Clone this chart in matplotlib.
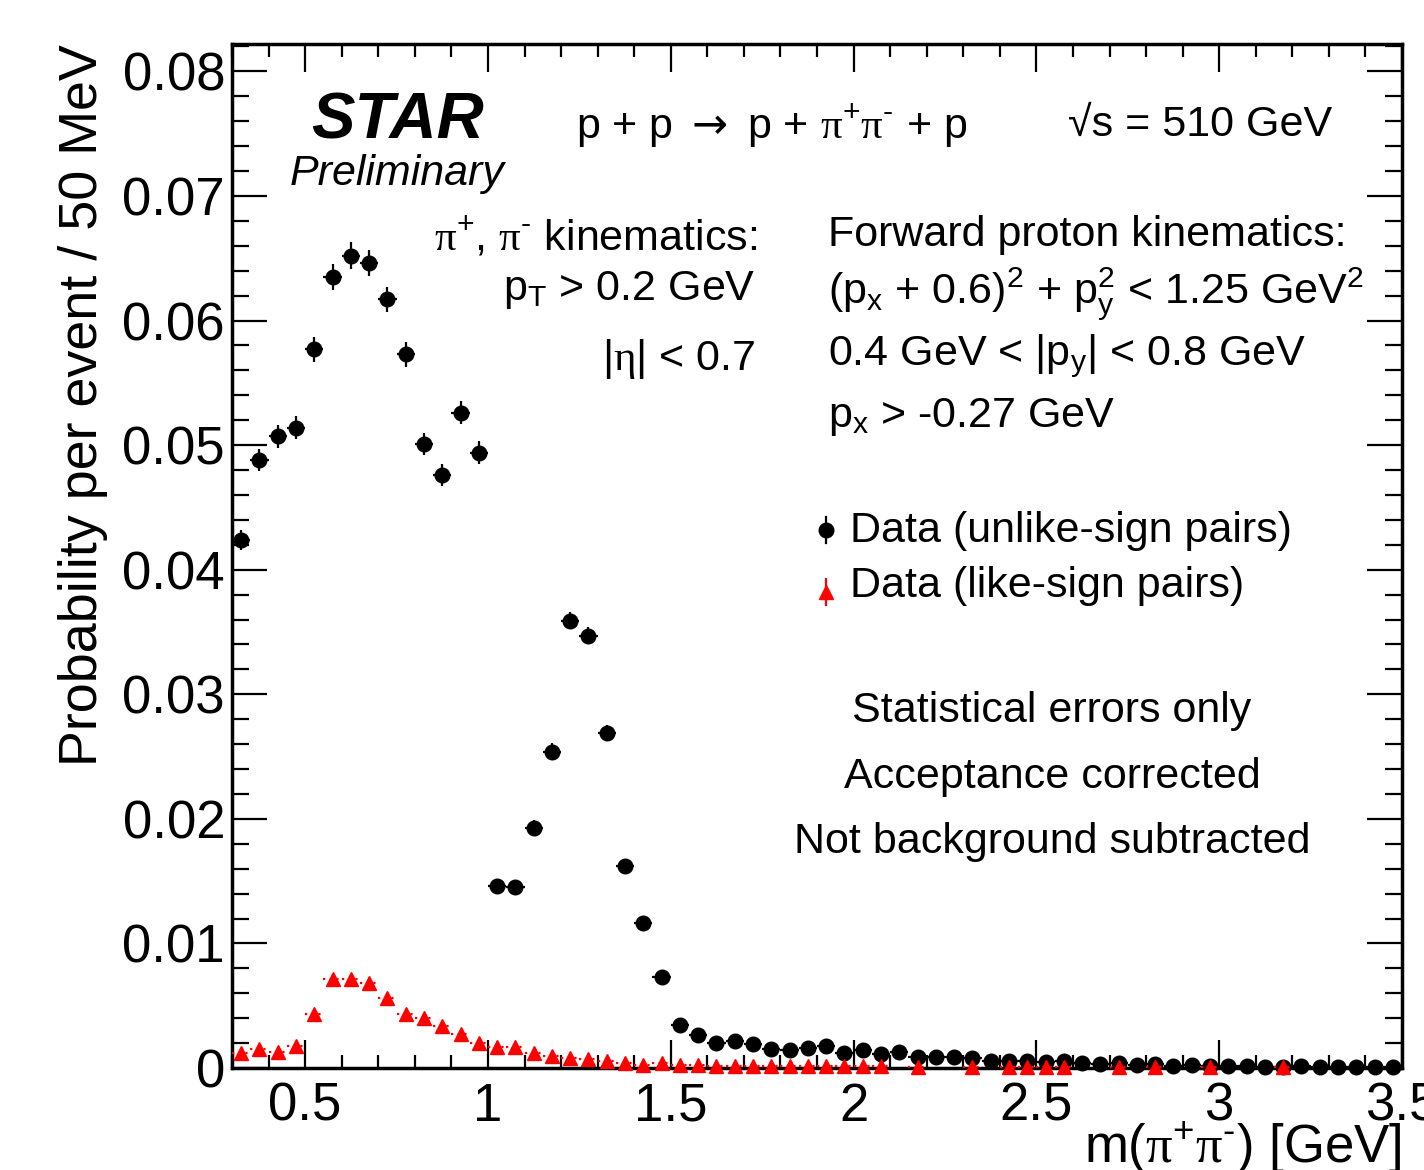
import matplotlib
matplotlib.use("Agg")
import matplotlib.pyplot as plt
import numpy as np
from matplotlib.ticker import MultipleLocator, FuncFormatter

plt.rcParams['font.family'] = ['Liberation Sans', 'DejaVu Sans']
plt.rcParams['mathtext.fontset'] = 'custom'
plt.rcParams['mathtext.rm'] = 'Liberation Sans'
plt.rcParams['mathtext.it'] = 'Liberation Sans:italic'
plt.rcParams['mathtext.bf'] = 'Liberation Sans:bold'
plt.rcParams['mathtext.sf'] = 'Liberation Serif'   # greek letters in symbol style
plt.rcParams['mathtext.cal'] = 'DejaVu Sans'       # wider arrow

# 50 MeV bins from 0.3 to 3.5 GeV
bin_lo = 0.30
bin_w = 0.05
n_bins = 64

# unlike-sign pi+pi- pairs
unlike = [0.0424, 0.0488, 0.0507, 0.0514, 0.0577, 0.0635, 0.0652, 0.0646,
          0.0617, 0.0573, 0.0501, 0.0476, 0.0526, 0.0494, 0.0146, 0.01456,
          0.0193, 0.0254, 0.0359, 0.0347, 0.0269, 0.0162, 0.0116, 0.00728,
          0.00346, 0.00264, 0.00202, 0.00213, 0.00194, 0.00152, 0.00141, 0.00162,
          0.00173, 0.00122, 0.00141, 0.00112, 0.00125, 0.00088, 0.0009, 0.0009,
          0.0008, 0.00056, 0.0006, 0.00056, 0.00048, 0.0006, 0.00042, 0.00029,
          0.00042, 0.00026, 0.00029, 0.0002, 0.00022, 0.0002, 0.00013, 0.00013,
          0.0001, 0.00006, 0.00013, 0.0001, 0.00008, 0.00008, 0.00008, 0.00005]
unlike_err = [0.0008, 0.00087, 0.00093, 0.00093, 0.001, 0.00107, 0.00107, 0.00104,
              0.00103, 0.001, 0.0009, 0.00087, 0.00093, 0.00093, 0.0005, 0.0005,
              0.00058, 0.00067, 0.0007, 0.0007, 0.00067, 0.0005, 0.00045, 0.0004,
              0.00025, 0.0002, 0.00018, 0.00018, 0.00017, 0.00015, 0.00015, 0.00016,
              0.00016, 0.00013, 0.00015, 0.00013, 0.00013, 0.0001, 0.0001, 0.0001,
              0.0001, 0.00008, 0.00008, 0.00008, 0.00007, 0.00008, 0.00007, 0.00005,
              0.00007, 0.00005, 0.00005, 0.00004, 0.00004, 0.00004, 0.00003, 0.00003,
              0.00003, 0.00002, 0.00003, 0.00003, 0.00002, 0.00002, 0.00002, 0.00002]

# like-sign pairs (None = empty bin)
like = [0.00117, 0.0015, 0.00125, 0.0018, 0.00434, 0.00714, 0.00714, 0.0068,
        0.0056, 0.00434, 0.004, 0.00336, 0.00269, 0.002, 0.0017, 0.0017,
        0.00122, 0.00096, 0.00077, 0.00075, 0.00056, 0.0004, 0.00026, 0.0004,
        0.00026, 0.00026, 0.00016, 0.0002, 0.00016, 0.00016, 0.00016, 0.00016,
        0.00016, 0.00016, 0.00016, 0.00016, None, 0.0001, None, None,
        0.0001, None, 0.0001, 0.0001, 0.0001, 0.0001, None, None,
        0.0001, None, 0.0001, None, None, 0.0001, None, None,
        None, 0.0001, None, None, None, None, None, None]
like_err = [0.0002, 0.0002, 0.0002, 0.00022, 0.0003, 0.0004, 0.0004, 0.00038,
            0.00035, 0.0003, 0.0003, 0.00028, 0.00025, 0.0002, 0.0002, 0.0002,
            0.00018, 0.00015, 0.00013, 0.00013, 0.0001, 0.0001, 0.00008, 0.0001,
            0.00008, 0.00008, 0.00006, 0.00007, 0.00006, 0.00006, 0.00006, 0.00006,
            0.00006, 0.00006, 0.00006, 0.00006, 0, 0.00005, 0, 0,
            0.00005, 0, 0.00005, 0.00005, 0.00005, 0.00005, 0, 0,
            0.00005, 0, 0.00005, 0, 0, 0.00005, 0, 0,
            0, 0.00005, 0, 0, 0, 0, 0, 0]

x = bin_lo + bin_w * (np.arange(n_bins) + 0.5)
y_un = np.array(unlike)
e_un = np.array(unlike_err)
y_like = np.array([np.nan if v is None else v for v in like])
e_like = np.array(like_err)

fig = plt.figure(figsize=(14.24, 11.7), dpi=100)
ax = fig.add_axes([232/1424, 1 - 1068/1170, 1170/1424, 1024/1170])

# unlike-sign: black dots with solid error bars
ax.errorbar(x, y_un, xerr=bin_w/2, yerr=e_un, fmt='o', color='black',
            markersize=10.5, elinewidth=1.6, capsize=0, zorder=3, clip_on=False)

# like-sign: red triangles, dotted bin-width bars
eb = ax.errorbar(x, y_like, xerr=bin_w/2, yerr=e_like, fmt='^', color='red',
                 markersize=10.5, elinewidth=1.6, capsize=0, zorder=4, clip_on=False)
eb[2][0].set_linestyle((0, (1, 2)))

ax.set_xlim(0.3, 3.5)
ax.set_ylim(0, 0.0822)

ax.xaxis.set_major_locator(MultipleLocator(0.5))
ax.xaxis.set_minor_locator(MultipleLocator(0.1))
ax.yaxis.set_major_locator(MultipleLocator(0.01))
ax.yaxis.set_minor_locator(MultipleLocator(0.002))
ax.xaxis.set_major_formatter(FuncFormatter(lambda v, p: '%g' % v))
ax.yaxis.set_major_formatter(FuncFormatter(lambda v, p: '0' if abs(v) < 1e-9 else '%.2f' % v))

ax.tick_params(which='both', direction='in', top=True, right=True, width=1.6,
               labelsize=38)
ax.tick_params(axis='y', which='major', length=25, pad=5)
ax.tick_params(axis='y', which='minor', length=12)
ax.tick_params(axis='x', which='major', length=20, pad=10)
ax.tick_params(axis='x', which='minor', length=9.5)
for sp in ax.spines.values():
    sp.set_linewidth(2.5)

PI = r'\mathsf{\pi}'
fig.text(83/1424, 1 - 44/1170, 'Probability per event / 50 MeV', rotation=90,
         ha='center', va='top', fontsize=38.8)
fig.text(1402/1424, 1 - 1163/1170, r'm($%s^{+}%s^{\text{-}}$) [GeV]' % (PI, PI),
         ha='right', va='baseline', fontsize=38)

tk = dict(transform=ax.transAxes, fontsize=31, va='baseline')
ax.text(0.068, 0.908, 'STAR', fontsize=47, fontweight='bold', style='italic',
        transform=ax.transAxes, va='baseline')
ax.text(0.0496, 0.862, 'Preliminary', fontsize=31, style='italic',
        transform=ax.transAxes, va='baseline')
ax.text(0.294, 0.908, r'p + p $\mathcal{\rightarrow}$ p + $%s^{+}%s^{\text{-}}$ + p' % (PI, PI), **tk)
ax.text(0.7145, 0.910, '√s = 510 GeV', **tk)

ax.text(0.4487, 0.799, r'$%s^{+}$, $%s^{\text{-}}$ kinematics:' % (PI, PI), ha='right', **tk)
ax.text(0.447, 0.750, r'p$_\mathrm{T}$ > 0.2 GeV', ha='right', **tk)
ax.text(0.447, 0.6816, r'|$\mathsf{\eta}$| < 0.7', ha='right', **tk)

ax.text(0.509, 0.8030, 'Forward proton kinematics:', **tk)
ax.text(0.509, 0.747, r'(p$_\mathrm{x}$ + 0.6)$^2$ + p$_\mathrm{y}^2$ < 1.25 GeV$^2$', **tk)
ax.text(0.509, 0.6865, r'0.4 GeV < |p$_\mathrm{y}$| < 0.8 GeV', **tk)
ax.text(0.509, 0.6263, r'p$_\mathrm{x}$ > -0.27 GeV', **tk)

# legend
ax.plot([0.5077], [0.5254], 'o', color='black', markersize=10.5, transform=ax.transAxes)
ax.plot([0.5077, 0.5077], [0.5254 - 0.0127, 0.5254 + 0.0127], color='black', lw=1.6,
        transform=ax.transAxes)
ax.plot([0.5077], [0.4648], '^', color='red', markersize=10.5, transform=ax.transAxes)
ax.plot([0.5077, 0.5077], [0.4648 - 0.0127, 0.4648 + 0.0127], color='red', lw=1.6,
        transform=ax.transAxes)
ax.text(0.528, 0.514, 'Data (unlike-sign pairs)', **tk)
ax.text(0.528, 0.4603, 'Data (like-sign pairs)', **tk)

ax.text(0.7009, 0.338, 'Statistical errors only', ha='center', **tk)
ax.text(0.7009, 0.2734, 'Acceptance corrected', ha='center', **tk)
ax.text(0.7009, 0.210, 'Not background subtracted', ha='center', **tk)

fig.savefig('out.png', dpi=100)
